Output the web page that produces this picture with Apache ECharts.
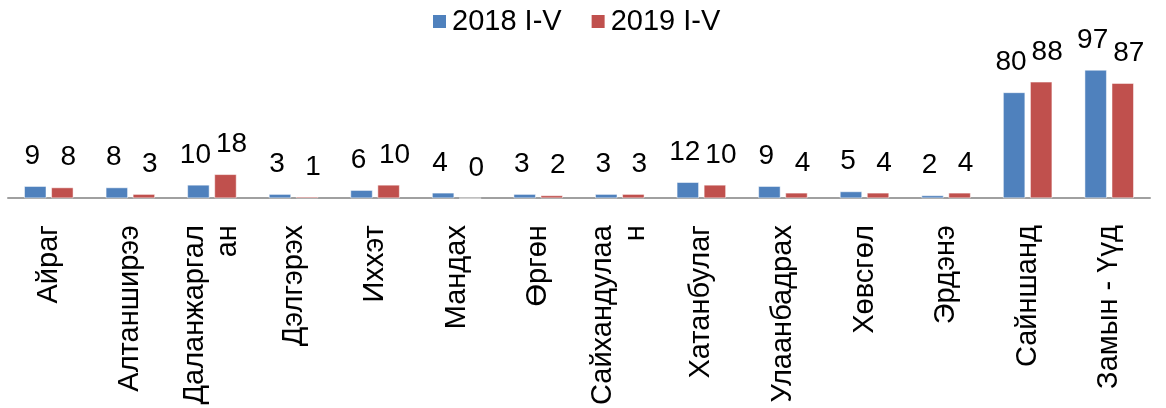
<!DOCTYPE html>
<html>
<head>
<meta charset="utf-8">
<script src="https://cdn.jsdelivr.net/npm/echarts@6/dist/echarts.min.js"></script>
<style>
html,body{margin:0;padding:0;background:#fff;}
#chart{width:1166px;height:408px;}
</style>
</head>
<body>
<div id="chart"></div>
<script>
const categories = ['Айраг','Алтанширээ','Даланжаргал\nан','Дэлгэрэх','Иххэт','Мандах','Өргөн','Сайхандулаа\nн','Хатанбулаг','Улаанбадрах','Хөвсгөл','Эрдэнэ','Сайншанд','Замын - Үүд'];
const seriesNames = ['2018 I-V','2019 I-V'];
const values2018 = [9,8,10,3,6,4,3,3,12,9,5,2,80,97];
const values2019 = [8,3,18,1,10,0,2,3,10,4,4,4,88,87];

const FONT = '"Liberation Sans", Arial, sans-serif';
const chart = echarts.init(document.getElementById('chart'));
function labelCfg(dx) {
  return {
    show: true, position: 'top', distance: 16, offset: [dx, 0],
    fontSize: 28, color: '#000', fontFamily: FONT
  };
}
chart.setOption({
  animation: false,
  color: ['#4F81BD', '#C0504D'],
  legend: {
    data: seriesNames,
    left: 431, top: 7, padding: 0,
    itemWidth: 15, itemHeight: 15, itemGap: 28,
    icon: 'rect',
    textStyle: { fontSize: 29, color: '#000', fontFamily: FONT }
  },
  grid: { left: 8, right: 16, top: 66, bottom: 209, containLabel: false },
  xAxis: {
    type: 'category',
    data: categories,
    axisTick: { show: false },
    axisLine: { lineStyle: { color: '#a0a0a0', width: 2 } },
    axisLabel: {
      interval: 0, rotate: 90, margin: 27,
      fontSize: 29, lineHeight: 33, color: '#000', fontFamily: FONT
    }
  },
  yAxis: {
    type: 'value', min: 0, max: 100, show: false,
    splitLine: { show: false }
  },
  series: [
    { name: seriesNames[0], type: 'bar', data: values2018, barWidth: 22, barGap: '23%',
      itemStyle: { borderColor: '#fff', borderWidth: 0.5 }, label: labelCfg(-3) },
    { name: seriesNames[1], type: 'bar', data: values2019, barWidth: 22, barGap: '23%',
      itemStyle: { borderColor: '#fff', borderWidth: 0.5 }, label: labelCfg(6) }
  ]
});
</script>
</body>
</html>
